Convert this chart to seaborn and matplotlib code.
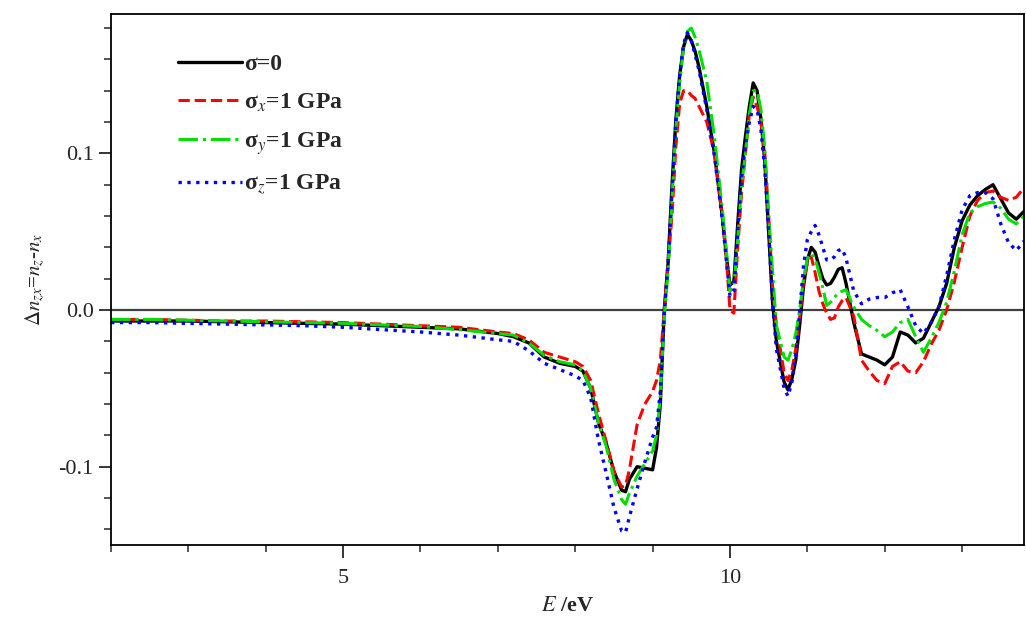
import numpy as np
import pandas as pd
import matplotlib
matplotlib.use('Agg')
import matplotlib.pyplot as plt
from matplotlib.ticker import MultipleLocator
import seaborn as sns

# energia (eV) e as quatro curvas
E = [2.0, 2.5, 3.0, 3.5, 4.0, 4.5, 5.0, 5.5, 6.0, 6.5, 7.0, 7.2, 7.4, 7.6, 7.8, 8.0, 8.1, 8.2, 8.3, 8.4,
     8.5, 8.6, 8.65, 8.7, 8.8, 8.9, 9.0, 9.05, 9.1, 9.15, 9.2, 9.25, 9.3, 9.35, 9.4, 9.45, 9.5, 9.55, 9.6, 9.7,
     9.8, 9.9, 9.95, 10.0, 10.05, 10.1, 10.15, 10.2, 10.25, 10.3, 10.35, 10.4, 10.45, 10.5, 10.55, 10.6, 10.7, 10.75, 10.8, 10.85,
     10.9, 10.95, 11.0, 11.05, 11.1, 11.15, 11.2, 11.25, 11.3, 11.35, 11.4, 11.45, 11.5, 11.6, 11.7, 11.8, 11.9, 12.0, 12.1, 12.2,
     12.3, 12.4, 12.5, 12.6, 12.7, 12.8, 12.9, 13.0, 13.1, 13.2, 13.3, 13.4, 13.5, 13.6, 13.7, 13.8]

sigma0 = [-0.007, -0.007, -0.007, -0.0075, -0.008, -0.0085, -0.009, -0.010, -0.011, -0.012, -0.015, -0.017, -0.021, -0.030, -0.034, -0.036, -0.039, -0.050, -0.072, -0.085,
          -0.103, -0.115, -0.116, -0.108, -0.100, -0.101, -0.102, -0.088, -0.060, 0.000, 0.030, 0.079, 0.121, 0.150, 0.168, 0.176, 0.172, 0.165, 0.155, 0.130,
          0.100, 0.060, 0.036, 0.016, 0.018, 0.055, 0.090, 0.111, 0.130, 0.145, 0.140, 0.122, 0.095, 0.050, 0.005, -0.020, -0.046, -0.051, -0.044, -0.032,
          -0.010, 0.015, 0.032, 0.040, 0.037, 0.028, 0.020, 0.016, 0.017, 0.021, 0.026, 0.027, 0.017, -0.008, -0.028, -0.030, -0.032, -0.035, -0.030, -0.014,
          -0.016, -0.021, -0.018, -0.008, 0.002, 0.017, 0.040, 0.057, 0.067, 0.073, 0.077, 0.080, 0.071, 0.062, 0.058, 0.063]

sigma_x = [-0.006, -0.006, -0.0065, -0.007, -0.007, -0.0075, -0.008, -0.009, -0.010, -0.011, -0.014, -0.015, -0.019, -0.027, -0.030, -0.033, -0.036, -0.045, -0.066, -0.084,
           -0.103, -0.113, -0.112, -0.102, -0.073, -0.060, -0.052, -0.045, -0.032, 0.000, 0.030, 0.060, 0.104, 0.132, 0.140, 0.140, 0.137, 0.135, 0.130, 0.120,
           0.100, 0.060, 0.035, 0.000, -0.002, 0.040, 0.075, 0.100, 0.125, 0.136, 0.130, 0.120, 0.100, 0.060, 0.015, -0.010, -0.040, -0.045, -0.038, -0.025,
           -0.005, 0.018, 0.030, 0.034, 0.024, 0.012, 0.004, -0.002, -0.006, -0.005, 0.002, 0.006, 0.008, -0.004, -0.032, -0.039, -0.045, -0.047, -0.036, -0.033,
           -0.039, -0.040, -0.033, -0.022, -0.013, 0.000, 0.018, 0.040, 0.060, 0.070, 0.075, 0.076, 0.072, 0.070, 0.072, 0.078]

sigma_y = [-0.006, -0.006, -0.0065, -0.007, -0.0075, -0.008, -0.0085, -0.0095, -0.0105, -0.0125, -0.015, -0.016, -0.021, -0.029, -0.033, -0.035, -0.039, -0.050, -0.072, -0.087,
           -0.108, -0.121, -0.124, -0.117, -0.106, -0.098, -0.090, -0.080, -0.055, -0.005, 0.025, 0.070, 0.115, 0.145, 0.168, 0.178, 0.180, 0.174, 0.166, 0.146,
           0.110, 0.065, 0.040, 0.012, 0.015, 0.045, 0.080, 0.100, 0.125, 0.140, 0.140, 0.128, 0.103, 0.060, 0.025, -0.010, -0.030, -0.032, -0.025, -0.015,
           0.000, 0.020, 0.033, 0.036, 0.033, 0.024, 0.014, 0.003, 0.005, 0.008, 0.011, 0.012, 0.013, 0.002, -0.006, -0.010, -0.013, -0.017, -0.014, -0.008,
           -0.006, -0.017, -0.027, -0.018, -0.008, 0.005, 0.025, 0.048, 0.062, 0.066, 0.068, 0.069, 0.065, 0.058, 0.055, 0.060]

sigma_z = [-0.008, -0.008, -0.0085, -0.009, -0.0095, -0.010, -0.011, -0.0125, -0.014, -0.016, -0.019, -0.020, -0.026, -0.034, -0.038, -0.042, -0.045, -0.056, -0.083, -0.104,
           -0.126, -0.141, -0.142, -0.132, -0.114, -0.097, -0.081, -0.075, -0.052, -0.003, 0.030, 0.075, 0.120, 0.150, 0.170, 0.177, 0.172, 0.163, 0.153, 0.128,
           0.098, 0.058, 0.033, 0.009, 0.012, 0.050, 0.085, 0.105, 0.120, 0.130, 0.128, 0.115, 0.090, 0.050, 0.005, -0.025, -0.050, -0.055, -0.046, -0.028,
           -0.002, 0.028, 0.045, 0.050, 0.054, 0.048, 0.040, 0.032, 0.032, 0.034, 0.038, 0.039, 0.033, 0.012, 0.004, 0.007, 0.008, 0.008, 0.011, 0.013,
           0.002, -0.010, -0.015, -0.008, 0.002, 0.022, 0.045, 0.064, 0.073, 0.075, 0.075, 0.071, 0.055, 0.043, 0.038, 0.044]

rotulos = ['σ=0', 'σ$_x$=1 GPa', 'σ$_y$=1 GPa', 'σ$_z$=1 GPa']
cores = ['#000000', '#ff0000', '#00e000', '#0000ff']
estilos = ['-', '--', '-.', ':']
larguras = [2.4, 2.2, 2.2, 2.4]

sns.set_style('ticks')
plt.rcParams['font.family'] = ['Liberation Serif', 'DejaVu Serif']
plt.rcParams['mathtext.fontset'] = 'stix'

fig = plt.figure(figsize=(10.26, 6.2), dpi=100)
ax = fig.add_axes([111/1026, 1 - 545/620, 913/1026, 531/620])

ax.axhline(0, color='#404040', lw=1.6, zorder=1)

for serie, rot, cor, est, lw in zip([sigma0, sigma_x, sigma_y, sigma_z], rotulos, cores, estilos, larguras):
    df = pd.DataFrame({'E': E, 'dn': serie})
    sns.lineplot(data=df, x='E', y='dn', ax=ax, color=cor, linestyle=est, lw=lw, label=rot)

ax.set_xlim(2, 13.8)
ax.set_ylim(-0.150, 0.189)
ax.xaxis.set_major_locator(MultipleLocator(5))
ax.xaxis.set_minor_locator(MultipleLocator(1))
ax.yaxis.set_major_locator(MultipleLocator(0.1))
ax.yaxis.set_minor_locator(MultipleLocator(0.02))
ax.set_yticks([-0.1, 0.0, 0.1])
ax.set_yticklabels(['-0.1', '0.0', '0.1'])
ax.tick_params(axis='both', which='major', direction='out', length=9, width=1.3, labelsize=16)
ax.tick_params(axis='x', which='major', pad=8)
ax.tick_params(axis='both', which='minor', direction='out', length=5, width=1.1)
ax.tick_params(top=False, right=False)
for s in ax.spines.values():
    s.set_linewidth(1.3)
    s.set_color('black')

ax.set_xlabel(r'$E$ /eV', fontsize=16, fontweight='bold', labelpad=6)
ax.set_ylabel(r'$\Delta n_{zx}$=$n_z$-$n_x$', fontsize=15, fontweight='bold', labelpad=8)

leg = ax.legend(loc='upper left', bbox_to_anchor=(0.05, 0.965), frameon=False, handlelength=2.7,
                handletextpad=0.1, labelspacing=0.68, prop={'size': 17, 'weight': 'bold'})

fig.savefig('out.png', dpi=100)
